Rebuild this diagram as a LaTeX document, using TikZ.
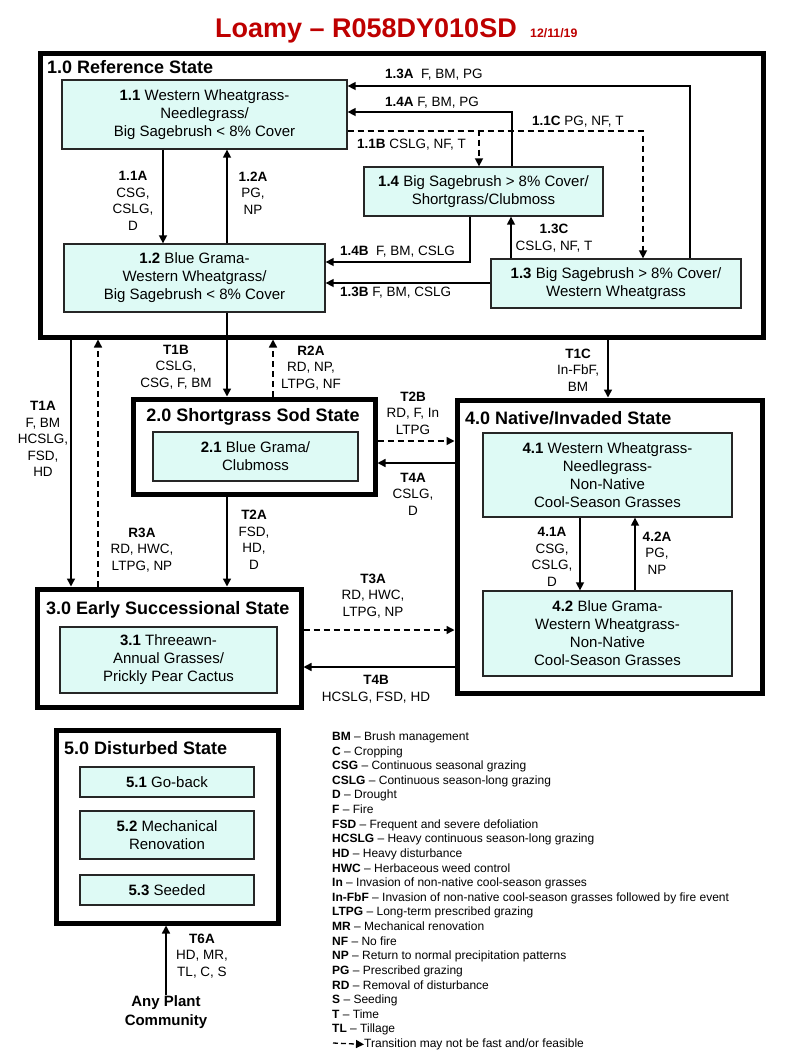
\documentclass[tikz,border=0pt]{standalone}
\usepackage{fontspec}
\setmainfont{Liberation Sans}
\usetikzlibrary{arrows.meta}
\definecolor{commfill}{RGB}{222,250,245}
\definecolor{titlered}{RGB}{190,0,0}
\tikzset{
  statebox/.style={draw, line width=5pt, inner sep=0pt},
  statetitle/.style={inner sep=0pt, font=\bfseries\fontsize{18}{21}\selectfont},
  comm/.style={draw=black!85, line width=1.3pt, fill=commfill, align=center, inner sep=0pt, font=\fontsize{15}{18}\selectfont},
  lbl/.style={align=center, inner sep=0pt, font=\fontsize{13.5}{16.5}\selectfont},
  legitem/.style={anchor=base west, inner sep=0pt, font=\fontsize{12}{14}\selectfont},
  trans/.style={line width=1.5pt, -{Triangle[length=8pt,width=8pt]}},
  maybe/.style={trans, dash pattern=on 6pt off 4pt},
}
\begin{document}
\begin{tikzpicture}[x=1pt,y=-1pt]
\useasboundingbox (0,0) rectangle (800,1058);

% Title
\node[anchor=base, inner sep=0pt, text=titlered, font=\bfseries\fontsize{27}{30}\selectfont] (title) at (366,37) {Loamy -- R058DY010SD};
\node[anchor=base west, inner sep=0pt, text=titlered, font=\bfseries\fontsize{12.3}{14}\selectfont] (date) at (530,37) {12/11/19};

% State boxes
\node[statebox, minimum width=723, minimum height=284] (s1) at (401.5,195) {};
\node[statebox, minimum width=242, minimum height=95] (s2) at (254,446.5) {};
\node[statebox, minimum width=264, minimum height=118] (s3) at (169,648) {};
\node[statebox, minimum width=305, minimum height=293] (s4) at (609.5,546.5) {};
\node[statebox, minimum width=222, minimum height=193] (s5) at (167,826.5) {};

\node[statetitle, anchor=west] (s1t) at (47,67) {1.0 Reference State};
\node[statetitle] (s2t) at (253,417) {2.0 Shortgrass Sod State};
\node[statetitle, anchor=west] (s3t) at (46,610) {3.0 Early Successional State};
\node[statetitle, anchor=west] (s4t) at (465,418) {4.0 Native/Invaded State};
\node[statetitle, anchor=west] (s5t) at (64,748) {5.0 Disturbed State};

% Plant communities
\node[comm, minimum width=285, minimum height=69] (c11) at (204.5,114.5) {\textbf{1.1} Western Wheatgrass-\\Needlegrass/\\Big Sagebrush < 8\% Cover};
\node[comm, minimum width=261, minimum height=68] (c12) at (194.5,278) {\textbf{1.2} Blue Grama-\\Western Wheatgrass/\\Big Sagebrush < 8\% Cover};
\node[comm, minimum width=239, minimum height=49] (c14) at (483.5,191.5) {\textbf{1.4} Big Sagebrush > 8\% Cover/\\Shortgrass/Clubmoss};
\node[comm, minimum width=250, minimum height=49] (c13) at (616,283.5) {\textbf{1.3} Big Sagebrush > 8\% Cover/\\Western Wheatgrass};
\node[comm, minimum width=205, minimum height=49] (c21) at (255.5,456.5) {\textbf{2.1} Blue Grama/\\Clubmoss};
\node[comm, minimum width=217, minimum height=66] (c31) at (168.5,660) {\textbf{3.1} Threeawn-\\Annual Grasses/\\Prickly Pear Cactus};
\node[comm, minimum width=249, minimum height=84] (c41) at (607.5,475) {\textbf{4.1} Western Wheatgrass-\\Needlegrass-\\Non-Native\\Cool-Season Grasses};
\node[comm, minimum width=249, minimum height=85] (c42) at (607.5,633.5) {\textbf{4.2} Blue Grama-\\Western Wheatgrass-\\Non-Native\\Cool-Season Grasses};
\node[comm, minimum width=174, minimum height=30] (c51) at (167,782) {\textbf{5.1} Go-back};
\node[comm, minimum width=174, minimum height=48] (c52) at (167,835) {\textbf{5.2} Mechanical\\Renovation};
\node[comm, minimum width=174, minimum height=30] (c53) at (167,890) {\textbf{5.3} Seeded};
\node[align=center, inner sep=0pt, font=\bfseries\fontsize{15}{19}\selectfont] (anyplant) at (166,1012) {Any Plant\\Community};

% Pathways in 1.0
\draw[trans] (163,0 |- c11.south) -- (163,0 |- c12.north);
\node[lbl] (p11a) at (133,201) {\textbf{1.1A}\\CSG,\\CSLG,\\D};
\draw[trans] (227,0 |- c12.north) -- (227,0 |- c11.south);
\node[lbl] (p12a) at (253,193) {\textbf{1.2A}\\PG,\\NP};
\draw[trans] (690,0 |- c13.north) |- (c11.east |- 0,86);
\node[lbl, anchor=west] (p13a) at (385,75) {\textbf{1.3A}\ \ F, BM, PG};
\draw[trans] (512,0 |- c14.north) |- (c11.east |- 0,112);
\node[lbl, anchor=west] (p14a) at (385,103) {\textbf{1.4A} F, BM, PG};
\draw[maybe] (c11.east |- 0,131) -| (479,0 |- c14.north);
\node[lbl, anchor=west] (p11b) at (357,145) {\textbf{1.1B} CSLG, NF, T};
\draw[maybe] (c11.east |- 0,131) -| (643,0 |- c13.north);
\node[lbl, anchor=west] (p11c) at (532,122) {\textbf{1.1C} PG, NF, T};
\draw[trans] (470,0 |- c14.south) |- (c12.east |- 0,262);
\node[lbl, anchor=west] (p14b) at (340,252) {\textbf{1.4B}\ \ F, BM, CSLG};
\draw[trans] (c13.west |- 0,283) -- (c12.east |- 0,283);
\node[lbl, anchor=west] (p13b) at (340,293) {\textbf{1.3B} F, BM, CSLG};
\draw[trans] (511,0 |- c13.north) -- (511,0 |- c14.south);
\node[lbl] (p13c) at (554,238) {\textbf{1.3C}\\CSLG, NF, T};

% Pathways in 4.0
\draw[trans] (580,0 |- c41.south) -- (580,0 |- c42.north);
\node[lbl] (p41a) at (552,557) {\textbf{4.1A}\\CSG,\\CSLG,\\D};
\draw[trans] (635,0 |- c42.north) -- (635,0 |- c41.south);
\node[lbl] (p42a) at (657,553) {\textbf{4.2A}\\PG,\\NP};

% Transitions and restorations
\draw[trans] (227,0 |- c12.south) -- (227,0 |- s2.north);
\node[lbl] (t1b) at (176,367) {\textbf{T1B}\\CSLG,\\CSG, F, BM};
\draw[maybe] (273,0 |- s2.north) -- (273,0 |- s1.south);
\node[lbl] (r2a) at (311,368) {\textbf{R2A}\\RD, NP,\\LTPG, NF};
\draw[trans] (71,0 |- s1.south) -- (71,0 |- s3.north);
\node[lbl] (t1a) at (43,439) {\textbf{T1A}\\F, BM\\HCSLG,\\FSD,\\HD};
\draw[maybe] (98,0 |- s3.north) -- (98,0 |- s1.south);
\node[lbl] (r3a) at (142,550) {\textbf{R3A}\\RD, HWC,\\LTPG, NP};
\draw[trans] (608,0 |- s1.south) -- (608,0 |- s4.north);
\node[lbl] (t1c) at (578,370) {\textbf{T1C}\\In-FbF,\\BM};
\draw[trans] (227,0 |- s2.south) -- (227,0 |- s3.north);
\node[lbl] (t2a) at (254,540) {\textbf{T2A}\\FSD,\\HD,\\D};
\draw[maybe] (s2.east |- 0,441) -- (s4.west |- 0,441);
\node[lbl] (t2b) at (413,413) {\textbf{T2B}\\RD, F, In\\LTPG};
\draw[trans] (s4.west |- 0,463) -- (s2.east |- 0,463);
\node[lbl] (t4a) at (413,494) {\textbf{T4A}\\CSLG,\\D};
\draw[maybe] (s3.east |- 0,630) -- (s4.west |- 0,630);
\node[lbl] (t3a) at (373,596) {\textbf{T3A}\\RD, HWC,\\LTPG, NP};
\draw[trans] (s4.west |- 0,667) -- (s3.east |- 0,667);
\node[lbl] (t4b) at (376,689) {\textbf{T4B}\\HCSLG, FSD, HD};
\draw[trans] (166,0 |- anyplant.north) -- (166,0 |- s5.south);
\node[lbl] (t6a) at (202,956) {\textbf{T6A}\\HD, MR,\\TL, C, S};

% Legend
\foreach \ab/\tx [count=\i] in {BM/Brush management, C/Cropping, CSG/Continuous seasonal grazing,
  CSLG/Continuous season-long grazing, D/Drought, F/Fire, FSD/Frequent and severe defoliation,
  HCSLG/Heavy continuous season-long grazing, HD/Heavy disturbance, HWC/Herbaceous weed control,
  In/Invasion of non-native cool-season grasses,
  In-FbF/Invasion of non-native cool-season grasses followed by fire event,
  LTPG/Long-term prescribed grazing, MR/Mechanical renovation, NF/No fire,
  NP/Return to normal precipitation patterns, PG/Prescribed grazing, RD/Removal of disturbance,
  S/Seeding, T/Time, TL/Tillage}
  \node[legitem] (leg\i) at (332,{740.5+14.62*(\i-1)}) {\textbf{\ab} -- \tx};
\coordinate (legdash) at (333,1043);
\node[legitem] (legtx) at (364,1047.5) {Transition may not be fast and/or feasible};
\draw[maybe, line width=1.3pt, dash pattern=on 5pt off 3pt] (legdash) -- (legtx.west);
\end{tikzpicture}
\end{document}
